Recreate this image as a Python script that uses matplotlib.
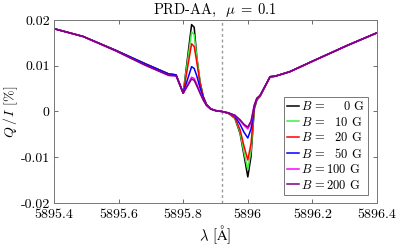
import matplotlib
matplotlib.use("Agg")
import matplotlib.pyplot as plt
import numpy as np

plt.rcParams["font.family"] = ["cmr10", "DejaVu Serif"]
plt.rcParams["mathtext.fontset"] = "cm"
plt.rcParams["axes.formatter.use_mathtext"] = True

# wavelength grid [A]
wl_left = [5895.40, 5895.49, 5895.59, 5895.68, 5895.755, 5895.778, 5895.80]
wl_core = [5895.826, 5895.834, 5895.842, 5895.852, 5895.862, 5895.872, 5895.885,
           5895.90, 5895.92, 5895.94, 5895.96, 5895.976, 5895.988, 5896.000,
           5896.010, 5896.020, 5896.028, 5896.038]
wl_right = [5896.069, 5896.084, 5896.13, 5896.21, 5896.31, 5896.40]

# Q/I in the wings (same for all fields)
q_left = [0.0181, 0.0164, 0.0134, 0.0105, 0.0082, 0.0080, 0.0040]
q_left_200 = [0.0181, 0.0164, 0.0133, 0.0102, 0.0079, 0.0078, 0.0040]
q_right = [0.0076, 0.0077, 0.0087, 0.0113, 0.0145, 0.0172]

# Q/I in the line core for each field
q_0 = [0.0190, 0.0184, 0.0120, 0.0065, 0.0032, 0.0015, 0.0006, 0.0002, 0.0,
       -0.0004, -0.0015, -0.0048, -0.0095, -0.0143, -0.0098, 0.0005, 0.0025, 0.0033]
q_10 = [0.0174, 0.0168, 0.0118, 0.0066, 0.0033, 0.0016, 0.0006, 0.0002, 0.0,
        -0.0004, -0.0014, -0.0045, -0.0088, -0.0127, -0.0085, 0.0006, 0.0026, 0.0034]
q_20 = [0.0148, 0.0142, 0.0108, 0.0063, 0.0033, 0.0016, 0.0006, 0.0002, 0.0,
        -0.0004, -0.0013, -0.0040, -0.0075, -0.0106, -0.0070, 0.0008, 0.0027, 0.0034]
q_50 = [0.0098, 0.0094, 0.0078, 0.0052, 0.0030, 0.0015, 0.0006, 0.0002, 0.0,
        -0.0003, -0.0010, -0.0028, -0.0045, -0.0058, -0.0038, 0.0010, 0.0028, 0.0035]
q_100 = [0.0075, 0.0072, 0.0060, 0.0042, 0.0026, 0.0014, 0.0006, 0.0002, 0.0,
         -0.0003, -0.0009, -0.0020, -0.0030, -0.0038, -0.0024, 0.0013, 0.0029, 0.0035]
q_200 = [0.0071, 0.0068, 0.0056, 0.0040, 0.0025, 0.0013, 0.0005, 0.0002, 0.0,
         -0.0003, -0.0008, -0.0018, -0.0028, -0.0034, -0.0021, 0.0014, 0.0029, 0.0035]

fields = [0, 10, 20, 50, 100, 200]
cores = [q_0, q_10, q_20, q_50, q_100, q_200]
colors = ["black", "#44ee44", "red", "blue", "magenta", "#800080"]
labels = [r"$B\,=$" + "    0 G", r"$B\,=$" + "  10 G", r"$B\,=$" + "  20 G",
          r"$B\,=$" + "  50 G", r"$B\,=$" + "100 G", r"$B\,=$" + "200 G"]

xticks = [5895.4, 5895.6, 5895.8, 5896.0, 5896.2, 5896.4]
xticklabels = ["5895.4", "5895.6", "5895.8", "5896", "5896.2", "5896.4"]
yticks = [-0.02, -0.01, 0, 0.01, 0.02]
yticklabels = ["-0.02", "-0.01", "0", "0.01", "0.02"]
line_center = 5895.92

wl = np.array(wl_left + wl_core + wl_right)

fig = plt.figure(figsize=(4.07, 2.45), dpi=100)
ax = fig.add_axes([0.1327, 0.1714, 0.7936, 0.747])

ax.axvline(line_center, color="#999999", ls=(0, (2, 2)), lw=1)
for i, B in enumerate(fields):
    left = q_left_200 if B >= 100 else q_left
    q = np.array(left + cores[i] + q_right)
    ax.plot(wl, q, color=colors[i], lw=1.1, label=labels[i])

ax.set_xlim(5895.4, 5896.4)
ax.set_ylim(-0.02, 0.02)
ax.set_xticks(xticks)
ax.set_xticklabels(xticklabels)
ax.set_yticks(yticks)
ax.set_yticklabels(yticklabels)
ax.tick_params(direction="in", top=True, right=True, labelsize=10,
               length=3, width=0.6, color="#555555")
ax.tick_params(axis="x", pad=4)
ax.tick_params(axis="y", pad=3)
for s in ax.spines.values():
    s.set_color("#777777")
    s.set_linewidth(0.7)

ax.set_xlabel(r"$\lambda$ [$\mathrm{\AA}$]", fontsize=10.5, labelpad=2)
ax.set_ylabel(r"$Q\,/\,I$ [%]", fontsize=10)
ax.yaxis.set_label_coords(-0.105, 0.5)
ax.set_title(r"PRD-AA,  $\mu\;=\;0.1$", fontsize=10.5, pad=4)

leg = ax.legend(loc="lower right", bbox_to_anchor=(0.972, 0.044), fontsize=9,
                handlelength=1.0, handletextpad=0.15, labelspacing=0.2,
                borderpad=0.25, borderaxespad=0, fancybox=False, framealpha=1)
leg.get_frame().set_edgecolor("#777777")
leg.get_frame().set_linewidth(0.7)

fig.savefig("out.png", dpi=100)
